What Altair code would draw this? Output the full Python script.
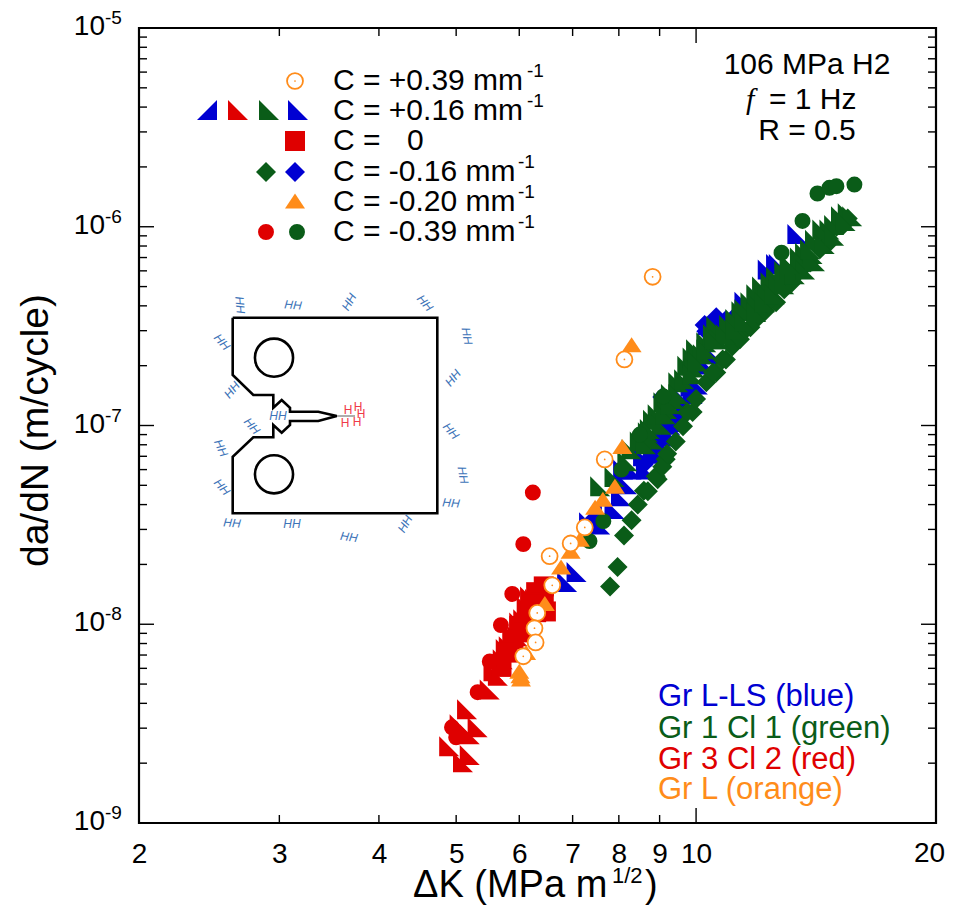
import altair as alt
import pandas as pd

RED, BLUE, GREEN, ORANGE = "#df0000", "#0000d2", "#0a5c18", "#ff8c1a"
SANS = "Liberation Sans"

# ---- data: (delta K, da/dN) ----
red_tri_k = [5.16,5.32,4.9,5.1,5.2,5.51,5.64,5.72,5.82,5.97,6.07,6.13,6.19,5.57,5.77,5.88,6.0,6.15,6.28,5.2,5.05]
red_tri_r = [3.73e-9,3.03e-9,2.43e-9,2.02e-9,2.2e-9,4.7e-9,5.5e-9,6.67e-9,7.75e-9,8.7e-9,1.06e-8,1.23e-8,1.38e-8,5.8e-9,7.5e-9,8.4e-9,1.02e-8,1.16e-8,1.34e-8,2.8e-9,3.14e-9]
red_sq_k = [6.44,6.48,6.19,6.0,5.9,5.8,5.7,6.3,6.3,6.07,6.44,6.38,6.25]
red_sq_r = [1.55e-8,1.16e-8,1.15e-8,9.8e-9,8.4e-9,7.2e-9,6.1e-9,1.45e-8,1.15e-8,9.1e-9,1.42e-8,1.29e-8,1.26e-8]
red_ci_k = [6.24,6.07,5.88,5.69,5.51,5.32,4.94,5.0]
red_ci_r = [4.6e-8,2.53e-8,1.42e-8,9.9e-9,6.5e-9,4.55e-9,3.03e-9,2.7e-9]

blue_tl_k = [7.08,6.89,7.34,7.58,8.05,8.19,8.83,9.07,9.28,9.47,9.66,9.84,10.3,10.5,11.5,12.3,12.6,13.4,8.58,8.3,8.1,7.9,12.7,12.45,12.0,11.8,
             8.65,8.9,9.07,9.28,9.47,9.7,9.9,10.05]
blue_tl_r = [1.83e-8,1.63e-8,3.26e-8,3.18e-8,4.4e-8,5.06e-8,7.6e-8,8.8e-8,1.01e-7,1.17e-7,1.36e-7,1.57e-7,2.03e-7,2.28e-7,4.2e-7,6.1e-7,6.5e-7,9.2e-7,7e-8,6e-8,6e-8,3.8e-8,6.5e-7,5.76e-7,4.4e-7,3.9e-7,
             6e-8,7.2e-8,8.05e-8,9e-8,1.04e-7,1.21e-7,1.44e-7,1.61e-7]
blue_tr_k = [10.3,10.6,11.0,11.8,7.4]
blue_tr_r = [3.2e-7,3.4e-7,3.7e-7,4.68e-7,3.7e-8]
blue_di_k = [10.25,10.6,9.07,8.6,10.3]
blue_di_r = [3.2e-7,3.5e-7,1.39e-7,6.4e-8,2.98e-7]

green_tri_k = [7.58,8.3,8.7,8.83,9.1,9.5,9.75,10.0,10.3,10.6,11.0,11.7,12.1,12.6,13.2,13.7,14.1,14.7,15.2,15.5,8.5,8.95,9.3,9.9,10.5,11.4,11.9,12.4,12.9,13.5,
               8.83,9.05,9.2,9.4,9.66,9.95,10.2,10.7,11.2,11.5,11.95,12.3,12.7,13.1,13.6,14.0,14.4,14.9,15.7,
               10.9,11.2,11.5,11.9,12.2,12.55,12.9,13.3,13.7,14.1,14.5,14.9,15.4,13.1,13.9,
               8.65,8.75,9.16,9.3,9.5,9.9,10.05,10.3,10.55,7.9,8.2]
green_tri_r = [4.94e-8,7.6e-8,9.25e-8,1.07e-7,1.31e-7,1.65e-7,2e-7,2.42e-7,2.62e-7,3.16e-7,3.2e-7,4.17e-7,5e-7,5.6e-7,6.3e-7,7.4e-7,8.6e-7,9.7e-7,1.13e-6,1.17e-6,8.3e-8,1.14e-7,1.44e-7,2.2e-7,2.88e-7,3.76e-7,4.57e-7,5.25e-7,6e-7,7e-7,
               8.5e-8,1.01e-7,1.21e-7,1.36e-7,1.71e-7,1.96e-7,2.28e-7,2.72e-7,3.43e-7,3.85e-7,4.07e-7,4.57e-7,5.13e-7,5.76e-7,6.7e-7,7.3e-7,9.7e-7,1.02e-6,1.13e-6,
               2.88e-7,3.05e-7,3.35e-7,3.72e-7,4.17e-7,4.57e-7,5.13e-7,5.76e-7,6.1e-7,6.7e-7,8.2e-7,9e-7,1.07e-6,6.5e-7,7.7e-7,
               8.05e-8,9.6e-8,1.14e-7,1.28e-7,1.44e-7,1.81e-7,2.1e-7,2.42e-7,2.72e-7,5.5e-8,6.6e-8]
green_di_k = [8.95,9.16,9.43,9.63,9.9,10.0,10.3,10.6,10.9,11.1,11.9,12.6,13.2,13.9,14.6,15.0,15.5,7.8,7.97,8.12,8.3,8.45,8.6,11.5,12.2,
              8.7,8.9,9.07,9.2,9.75,10.5,10.8,11.35,11.7,12.2,12.4,12.9,13.5,13.8,14.3,14.7,15.3]
green_di_r = [5.37e-8,6.76e-8,8.3e-8,9.9e-8,1.17e-7,1.36e-7,1.65e-7,1.85e-7,2.15e-7,2.5e-7,3.43e-7,4.17e-7,5.25e-7,6.6e-7,8.36e-7,1e-6,1.1e-6,1.55e-8,1.94e-8,2.8e-8,3.34e-8,4e-8,4.7e-8,3e-7,3.8e-7,
              4.67e-8,5.55e-8,6.2e-8,7.2e-8,1.17e-7,1.85e-7,2.15e-7,2.72e-7,3.12e-7,3.76e-7,4.3e-7,4.85e-7,6e-7,6.7e-7,7.7e-7,8.36e-7,1.02e-6]
green_ci_k = [14.2,14.7,15.0,15.8,13.6,12.8,8.5,8.06,9.1,7.35,7.65]
green_ci_r = [1.47e-6,1.57e-6,1.6e-6,1.63e-6,1.07e-6,7.4e-7,9e-8,6e-8,1.4e-7,2.62e-8,3.3e-8]

orange_tri_k = [8.3,8.08,7.91,7.64,7.47,7.15,6.96,6.77,6.46,6.12,6.0,6.02,6.03]
orange_tri_r = [2.55e-7,7.85e-8,4.95e-8,4.26e-8,3.88e-8,2.68e-8,2.33e-8,1.94e-8,1.27e-8,7.2e-9,5.8e-9,5.5e-9,5.3e-9]
orange_open_k = [8.82,8.13,7.68,7.25,6.96,6.55,6.6,6.32,6.27,6.29,6.07]
orange_open_r = [5.6e-7,2.15e-7,6.75e-8,3.07e-8,2.55e-8,2.2e-8,1.57e-8,1.14e-8,9.55e-9,8.1e-9,6.9e-9]

x_ticks_minor = [3,4,5,6,7,8,9]
x_ticks_major = [10]
x_labels = [2,3,4,5,6,7,8,9,10]
x_last = [20]
y_major = [1e-8,1e-7,1e-6]
y_minor = [m*10.0**e for e in (-9,-8,-7,-6) for m in (2,3,4,5,6,7,8,9)]
y_lab = [1e-5,1e-6,1e-7,1e-8,1e-9]
y_exp = ["-5","-6","-7","-8","-9"]

W, H = 797, 795
OX, OY = 139, 28   # plot origin on the page

TL = "M-1,1L-1,-1L1,1Z"
TR = "M1,1L1,-1L-1,1Z"
UP = "M-1,0.75L0,-0.75L1,0.75Z"
SQ = "M-1,-1L1,-1L1,1L-1,1Z"
DI = "M0,-1L1,0L0,1L-1,0Z"

XAX = alt.Axis(values=x_labels, title=None, ticks=False, grid=False, domain=False,
               labelFontSize=28, labelFont=SANS, labelColor="black", labelPadding=17,
               labelFlush=False, labelOverlap=False, format="d")
YAX = alt.Axis(values=y_lab, labels=False, ticks=False, grid=False, domain=False,
               title="da/dN (m/cycle)", titleFontSize=39, titleFont=SANS, titleFontWeight="normal",
               titleColor="black", titleX=-104, titleY=402, titleAngle=270, titleBaseline="middle", titleAlign="center")
X = alt.X("k:Q", scale=alt.Scale(type="log", domain=[2,20], nice=False), axis=XAX)
Y = alt.Y("r:Q", scale=alt.Scale(type="log", domain=[1e-9,1e-5], nice=False), axis=YAX)

def pts(ks, rs, shape, color, size=400):
    d = pd.DataFrame({"k":ks, "r":rs})
    return alt.Chart(d).mark_point(shape=shape, size=size, filled=True, opacity=1, color=color, strokeWidth=0).encode(x=X, y=Y)

def opn(ks, rs):
    d = pd.DataFrame({"k":ks, "r":rs})
    a = alt.Chart(d).mark_point(shape="circle", size=254, fill="white", fillOpacity=1, opacity=1, stroke=ORANGE, strokeWidth=1.8).encode(x=X, y=Y)
    b = alt.Chart(d).mark_point(shape="circle", size=3, filled=True, opacity=1, color=ORANGE, strokeWidth=0).encode(x=X, y=Y)
    return a + b

def PX(rows):
    """rows in page pixels -> plot-area pixels"""
    return pd.DataFrame([{"px":r[0]-OX, "py":r[1]-OY, **({"t":r[2]} if len(r)>2 else {}), **({"a":r[3]} if len(r)>3 else {})} for r in rows])

XP = alt.X("px:Q", scale=None, axis=None)
YP = alt.Y("py:Q", scale=None, axis=None)

def txt(rows, size, color="black", align="left", font=SANS, style="normal"):
    return alt.Chart(PX(rows)).mark_text(align=align, baseline="middle", font=font, fontSize=size, color=color, fontStyle=style).encode(x=XP, y=YP, text="t:N")

def glyph(rows, shape, color, size=400):
    return alt.Chart(PX(rows)).mark_point(shape=shape, size=size, filled=True, opacity=1, color=color, strokeWidth=0).encode(x=XP, y=YP)

def xt(vals, a, b):
    return alt.Chart(pd.DataFrame({"k":vals})).mark_rule(color="black", strokeWidth=1.4).encode(x=X, y=alt.value(a), y2=alt.value(b))
def yt(vals, a, b):
    return alt.Chart(pd.DataFrame({"r":vals})).mark_rule(color="black", strokeWidth=1.4).encode(y=Y, x=alt.value(a), x2=alt.value(b))

tick_layers = [xt(x_ticks_minor,H,H-8), xt(x_ticks_major,H,H-15), xt(x_ticks_minor,0,8), xt(x_ticks_major,0,15),
               yt(y_minor,0,8), yt(y_major,0,15), yt(y_minor,W,W-8), yt(y_major,W,W-15)]

ylab_df = pd.DataFrame({"r":y_lab, "e":y_exp, "b":["10"]*5})
ylab1 = alt.Chart(ylab_df).mark_text(align="right", baseline="middle", font=SANS, fontSize=28, color="black", dy=-1).encode(y=Y, x=alt.value(-34), text="b:N")
ylab2 = alt.Chart(ylab_df).mark_text(align="left", baseline="middle", font=SANS, fontSize=19, color="black", dy=-10).encode(y=Y, x=alt.value(-34), text="e:N")

# the "20" label is pulled in a little so it stays on the page
xlab20 = alt.Chart(pd.DataFrame({"k":x_last,"t":["20"]})).mark_text(
    align="center", baseline="middle", font=SANS, fontSize=28, color="black", dx=-6.5).encode(x=X, y=alt.value(H+31), text="t:N")

# legend
L = 333
legend = [
    txt([(L,81,"C = +0.39 mm"),(L,111,"C = +0.16 mm"),(L,141,"C ="),(407,141,"0"),(L,172,"C = -0.16 mm"),(L,202,"C = -0.20 mm"),(L,232,"C = -0.39 mm")], 30),
    txt([(527,71,"-1"),(527,101,"-1"),(518,162,"-1"),(518,192,"-1"),(518,222,"-1")], 19),
    glyph([(207,110)], TR, BLUE), glyph([(238,110)], TL, RED), glyph([(269,110)], TL, GREEN), glyph([(298,110)], TL, BLUE),
    glyph([(295,141)], SQ, RED), glyph([(266,172)], DI, GREEN), glyph([(295,172)], DI, BLUE),
    glyph([(295,201)], UP, ORANGE), glyph([(266,232)], "circle", RED, 254), glyph([(297,232)], "circle", GREEN, 254),
    alt.Chart(PX([(295,81)])).mark_point(shape="circle", size=254, fill="white", fillOpacity=1, opacity=1, stroke=ORANGE, strokeWidth=1.8).encode(x=XP, y=YP),
    glyph([(295,81)], "circle", ORANGE, 3),
]

# annotations
notes = [
    txt([(807,65,"106 MPa H2"),(807,131,"R = 0.5")], 30, align="center"),
    txt([(746,100,"f")], 30, font="Liberation Serif", style="italic"),
    txt([(769,100,"= 1 Hz")], 30),
    txt([(658,697,"Gr L-LS (blue)")], 31, BLUE),
    txt([(658,729,"Gr 1 Cl 1 (green)")], 31, GREEN),
    txt([(658,760,"Gr 3 Cl 2 (red)")], 31, RED),
    txt([(658,790,"Gr L (orange)")], 31, ORANGE),
    txt([(413,886,"\u0394K (MPa m")], 38),
    txt([(612,876,"1/2")], 22),
    txt([(645,886,")")], 38),
]

# specimen sketch (page pixels)
outline = [(232.7,317.7),(437.3,317.7),(437.3,513.3),(232.7,513.3),(232.7,456.7),(253.3,437.3),(273.3,437.3),(273.3,425),
           (281.7,432.7),(290,425),(290,421),(318.3,421),(336.7,416),(318.3,411.7),(290,411.7),(290,407.7),(281.7,400),
           (273.3,407.7),(273.3,395),(253.3,395),(232.7,375),(232.7,317.7)]
out_df = PX(outline); out_df["o"] = range(len(out_df))
spec = [
    alt.Chart(pd.DataFrame({"px":[336.7-OX,355-OX],"py":[416-OY,416-OY]})).mark_line(color="#777777", strokeWidth=1.2).encode(x=XP, y=YP),
    alt.Chart(out_df).mark_line(color="black", strokeWidth=2.6).encode(x=XP, y=YP, order="o:Q"),
    alt.Chart(PX([(274,357.7),(274,474.3)])).mark_point(shape="circle", size=1452, stroke="black", strokeWidth=2.6, filled=False, opacity=1).encode(x=XP, y=YP),
]
hh = [(240,305,"HH",85),(293,305,"HH",5),(349,302,"HH",300),(425,303,"HH",50),(467,336,"HH",80),(453,378,"HH",310),
      (451,431,"HH",50),(463,475,"HH",80),(451,503,"HH",5),(405,524,"HH",300),(349,537,"HH",8),(292,524,"HH",0),
      (232,523,"HH",5),(222,487,"HH",50),(221,448,"HH",65),(252,426,"HH",50),(278,416,"HH",0),(232,390,"HH",310),(222,342,"HH",50)]
spec.append(alt.Chart(PX(hh)).mark_text(font=SANS, fontSize=12, fontStyle="italic", color="#3d74b8", align="center", baseline="middle").encode(
    x=XP, y=YP, text="t:N", angle=alt.Angle("a:Q", scale=None)))
spec.append(txt([(348,410,"H"),(358,407,"H"),(361,414,"H"),(345,423,"H"),(357,422,"H")], 12, "#f03a4a", align="center"))

layers = [
    pts(red_tri_k, red_tri_r, TL, RED),
    pts(red_sq_k, red_sq_r, SQ, RED),
    pts(red_ci_k, red_ci_r, "circle", RED, 254),
    pts(blue_di_k, blue_di_r, DI, BLUE),
    pts(blue_tl_k, blue_tl_r, TL, BLUE),
    pts(blue_tr_k, blue_tr_r, TR, BLUE),
    pts(green_di_k, green_di_r, DI, GREEN),
    pts(green_tri_k, green_tri_r, TL, GREEN),
    pts(green_ci_k, green_ci_r, "circle", GREEN, 254),
    pts(orange_tri_k, orange_tri_r, UP, ORANGE),
    opn(orange_open_k, orange_open_r),
    ylab1, ylab2, xlab20,
] + tick_layers + legend + notes + spec

chart = alt.layer(*layers).properties(
    width=W, height=H,
    autosize=alt.AutoSizeParams(type="none"),
    padding={"left":131,"top":20,"right":9,"bottom":82},
    background="white",
).configure_view(stroke="black", strokeWidth=2.2)

chart.save("out.html", embed_options={"renderer": "svg", "actions": False})
